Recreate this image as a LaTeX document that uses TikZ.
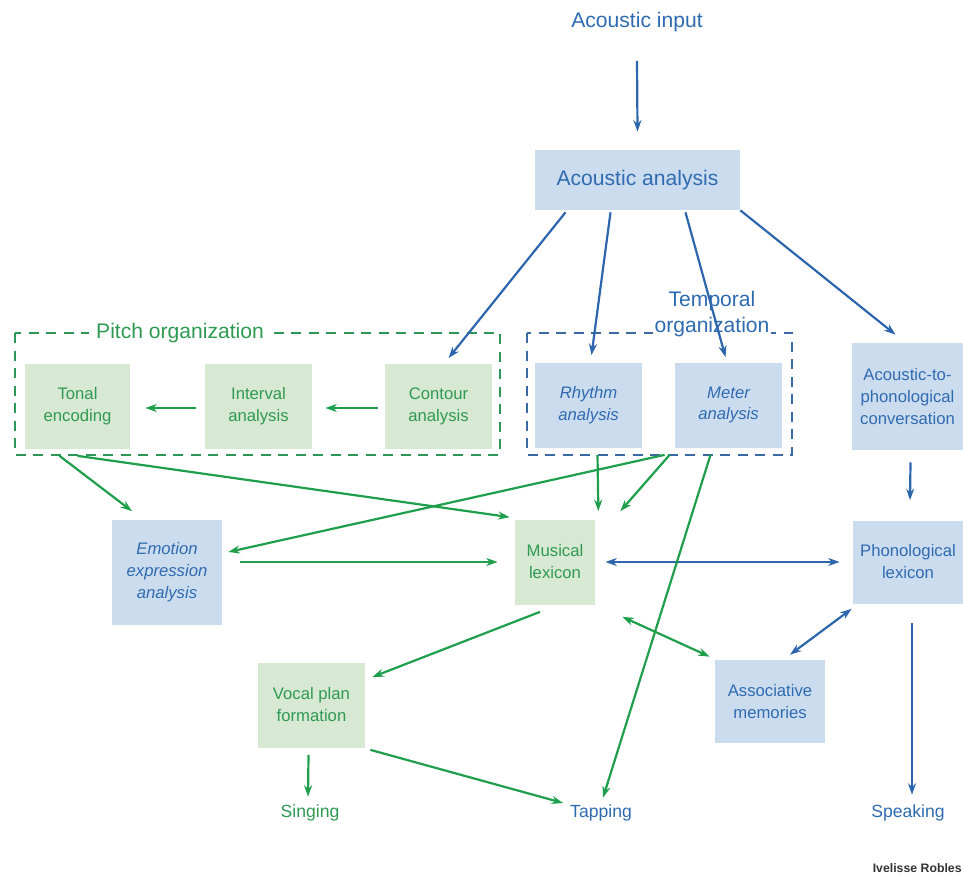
\documentclass[tikz,border=0pt]{standalone}
\usepackage{fontspec}
\setmainfont{Liberation Sans}
\usetikzlibrary{arrows.meta,calc,positioning}
\definecolor{txtblue}{HTML}{2F6BB0}
\definecolor{arrblue}{HTML}{2D66AC}
\definecolor{boxblue}{HTML}{CCDCEF}
\definecolor{frameblue}{HTML}{3A69A3}
\definecolor{txtgreen}{HTML}{2F9A52}
\definecolor{arrgreen}{HTML}{1F9E4C}
\definecolor{boxgreen}{HTML}{D7E8D3}
\definecolor{framegreen}{HTML}{2E9658}
\tikzset{
  >={Stealth[length=2.3mm,width=1.6mm]},
  % boxes
  bx/.style={inner sep=1pt,align=center,font=\fontsize{9.5}{12.5}\selectfont,
             minimum width=21.4mm,minimum height=17mm},
  bb/.style={bx,fill=boxblue,text=txtblue},
  gb/.style={bx,fill=boxgreen,text=txtgreen},
  big/.style={font=\fontsize{12}{15}\selectfont,inner sep=1pt},
  outtxt/.style={font=\fontsize{10}{12}\selectfont,inner sep=1pt},
  % arrows
  ba/.style={->,draw=arrblue,line width=1.25pt},
  bba/.style={<->,draw=arrblue,line width=1.25pt},
  ga/.style={->,draw=arrgreen,line width=1.25pt},
  gga/.style={<->,draw=arrgreen,line width=1.25pt},
  % groups
  grp/.style={line width=1.4pt,dash pattern=on 2mm off 1.5mm},
}
\begin{document}
\begin{tikzpicture}[x=0.2mm,y=-0.2mm]
\useasboundingbox (0,0) rectangle (963,892);
  % groups
  \draw[grp,draw=framegreen] (15,333) rectangle (500,455);
  \draw[grp,draw=frameblue] (527,333) rectangle (792,455);
  \node[big,fill=white,text=txtgreen,inner xsep=4pt] (plabel) at (180,333) {Pitch organization};
  \node[big,fill=white,text=txtblue,align=center] (tlabel) at (712,314) {Temporal\\organization};

  \node[big,text=txtblue] (ainput) at (637,22) {Acoustic input};
  \node[bb,big,minimum width=41mm,minimum height=12mm] (aanal) at (637.5,180) {Acoustic analysis};

  \node[gb,minimum width=21mm] (tonal) at (77.5,406) {Tonal\\encoding};
  \node[gb] (interval) at (258.5,406) {Interval\\analysis};
  \node[gb] (contour) at (438.5,406) {Contour\\analysis};
  \node[bb,font=\fontsize{9.5}{12.5}\selectfont\itshape] (rhythm) at (588.5,405) {Rhythm\\analysis};
  \node[bb,font=\fontsize{9.5}{12.5}\selectfont\itshape] (meter) at (728.5,405) {Meter\\analysis};
  \node[bb,minimum width=22.2mm,minimum height=21.4mm] (atp) at (907.5,396.5) {Acoustic-to-\\phonological\\conversation};

  \node[bb,font=\fontsize{9.5}{12.5}\selectfont\itshape,minimum width=22mm,minimum height=21mm] (emotion) at (167,572) {Emotion\\expression\\analysis};
  \node[gb,minimum width=16mm] (mlex) at (555,562) {Musical\\lexicon};
  \node[bb,minimum width=22mm,minimum height=16.6mm] (plex) at (908,562) {Phonological\\lexicon};
  \node[bb,minimum width=22mm,minimum height=16.6mm] (assoc) at (770,701.5) {Associative\\memories};
  \node[gb] (vocal) at (311.5,705) {Vocal plan\\formation};

  \node[outtxt,text=txtgreen] (sing) at (310,813) {Singing};
  \node[outtxt,text=txtblue] (tap) at (601,813) {Tapping};
  \node[outtxt,text=txtblue] (speak) at (908,813) {Speaking};
  \node[font=\fontsize{7}{8}\selectfont\bfseries,inner sep=0pt,anchor=east,text=black!80] (credit) at (962,868) {Ivelisse Robles};

  % blue connections
  \draw[ba] ($(ainput.south)+(0,27)$) -- ($(aanal.north)+(0,-18)$);
  \draw[ba] ($(aanal.south)+(-72,2)$) -- ($(contour.north)+(10,-5)$);
  \draw[ba] ($(aanal.south)+(-27,2)$) -- ($(rhythm.north)+(3,-7)$);
  \draw[ba] ($(aanal.south)+(48,2)$) -- ($(meter.north)+(-3,-5)$);
  \draw[ba] ($(aanal.south east)+(0,0)$) -- ($(atp.north)+(-12,-8)$);
  \draw[ba] ($(atp.south)+(3,12)$) -- ($(plex.north)+(2,-20)$);
  \draw[bba] ($(mlex.east)+(10,0)$) -- ($(plex.west)+(-13,0)$);
  \draw[bba] ($(plex.south west)+(-1,5)$) -- ($(assoc.north)+(20,-5)$);
  \draw[ba] ($(plex.south)+(4,19)$) -- ($(speak.north)+(4,-8)$);

  % pitch chain
  \draw[ga] ($(contour.west)+(-7,2)$) -- ($(interval.east)+(13,2)$);
  \draw[ga] ($(interval.west)+(-9,2)$) -- ($(tonal.east)+(15,2)$);

  % green connections
  \draw[ga] ($(tonal.south)+(-18,7)$) -- ($(emotion.north)+(-35,-8)$);
  \draw[ga] ($(tonal.south)+(0,7)$) -- ($(mlex.north west)+(-5,-2)$);
  \draw[ga] ($(meter.south west)+(-10,7)$) -- ($(emotion.east)+(6,-20)$);
  \draw[ga] ($(rhythm.south)+(9,7)$) -- ($(mlex.north east)+(3,-8)$);
  \draw[ga] ($(meter.south west)+(-5,7)$) -- ($(mlex.north east)+(25,-8)$);
  \draw[ga] ($(meter.south)+(-18,7)$) -- ($(tap.north)+(2,-5)$);
  \draw[ga] ($(emotion.east)+(18,-10)$) -- ($(mlex.west)+(-17,0)$);
  \draw[ga] ($(mlex.south)+(-15,7)$) -- ($(vocal.east)+(7,-28)$);
  \draw[gga] ($(mlex.south east)+(27,12)$) -- ($(assoc.north west)+(-5,-3)$);
  \draw[ga] ($(vocal.south)+(-3,7)$) -- ($(sing.north)+(-2,-6)$);
  \draw[ga] ($(vocal.south east)+(5,2)$) -- ($(tap.west)+(-5,-10)$);
\end{tikzpicture}
\end{document}
